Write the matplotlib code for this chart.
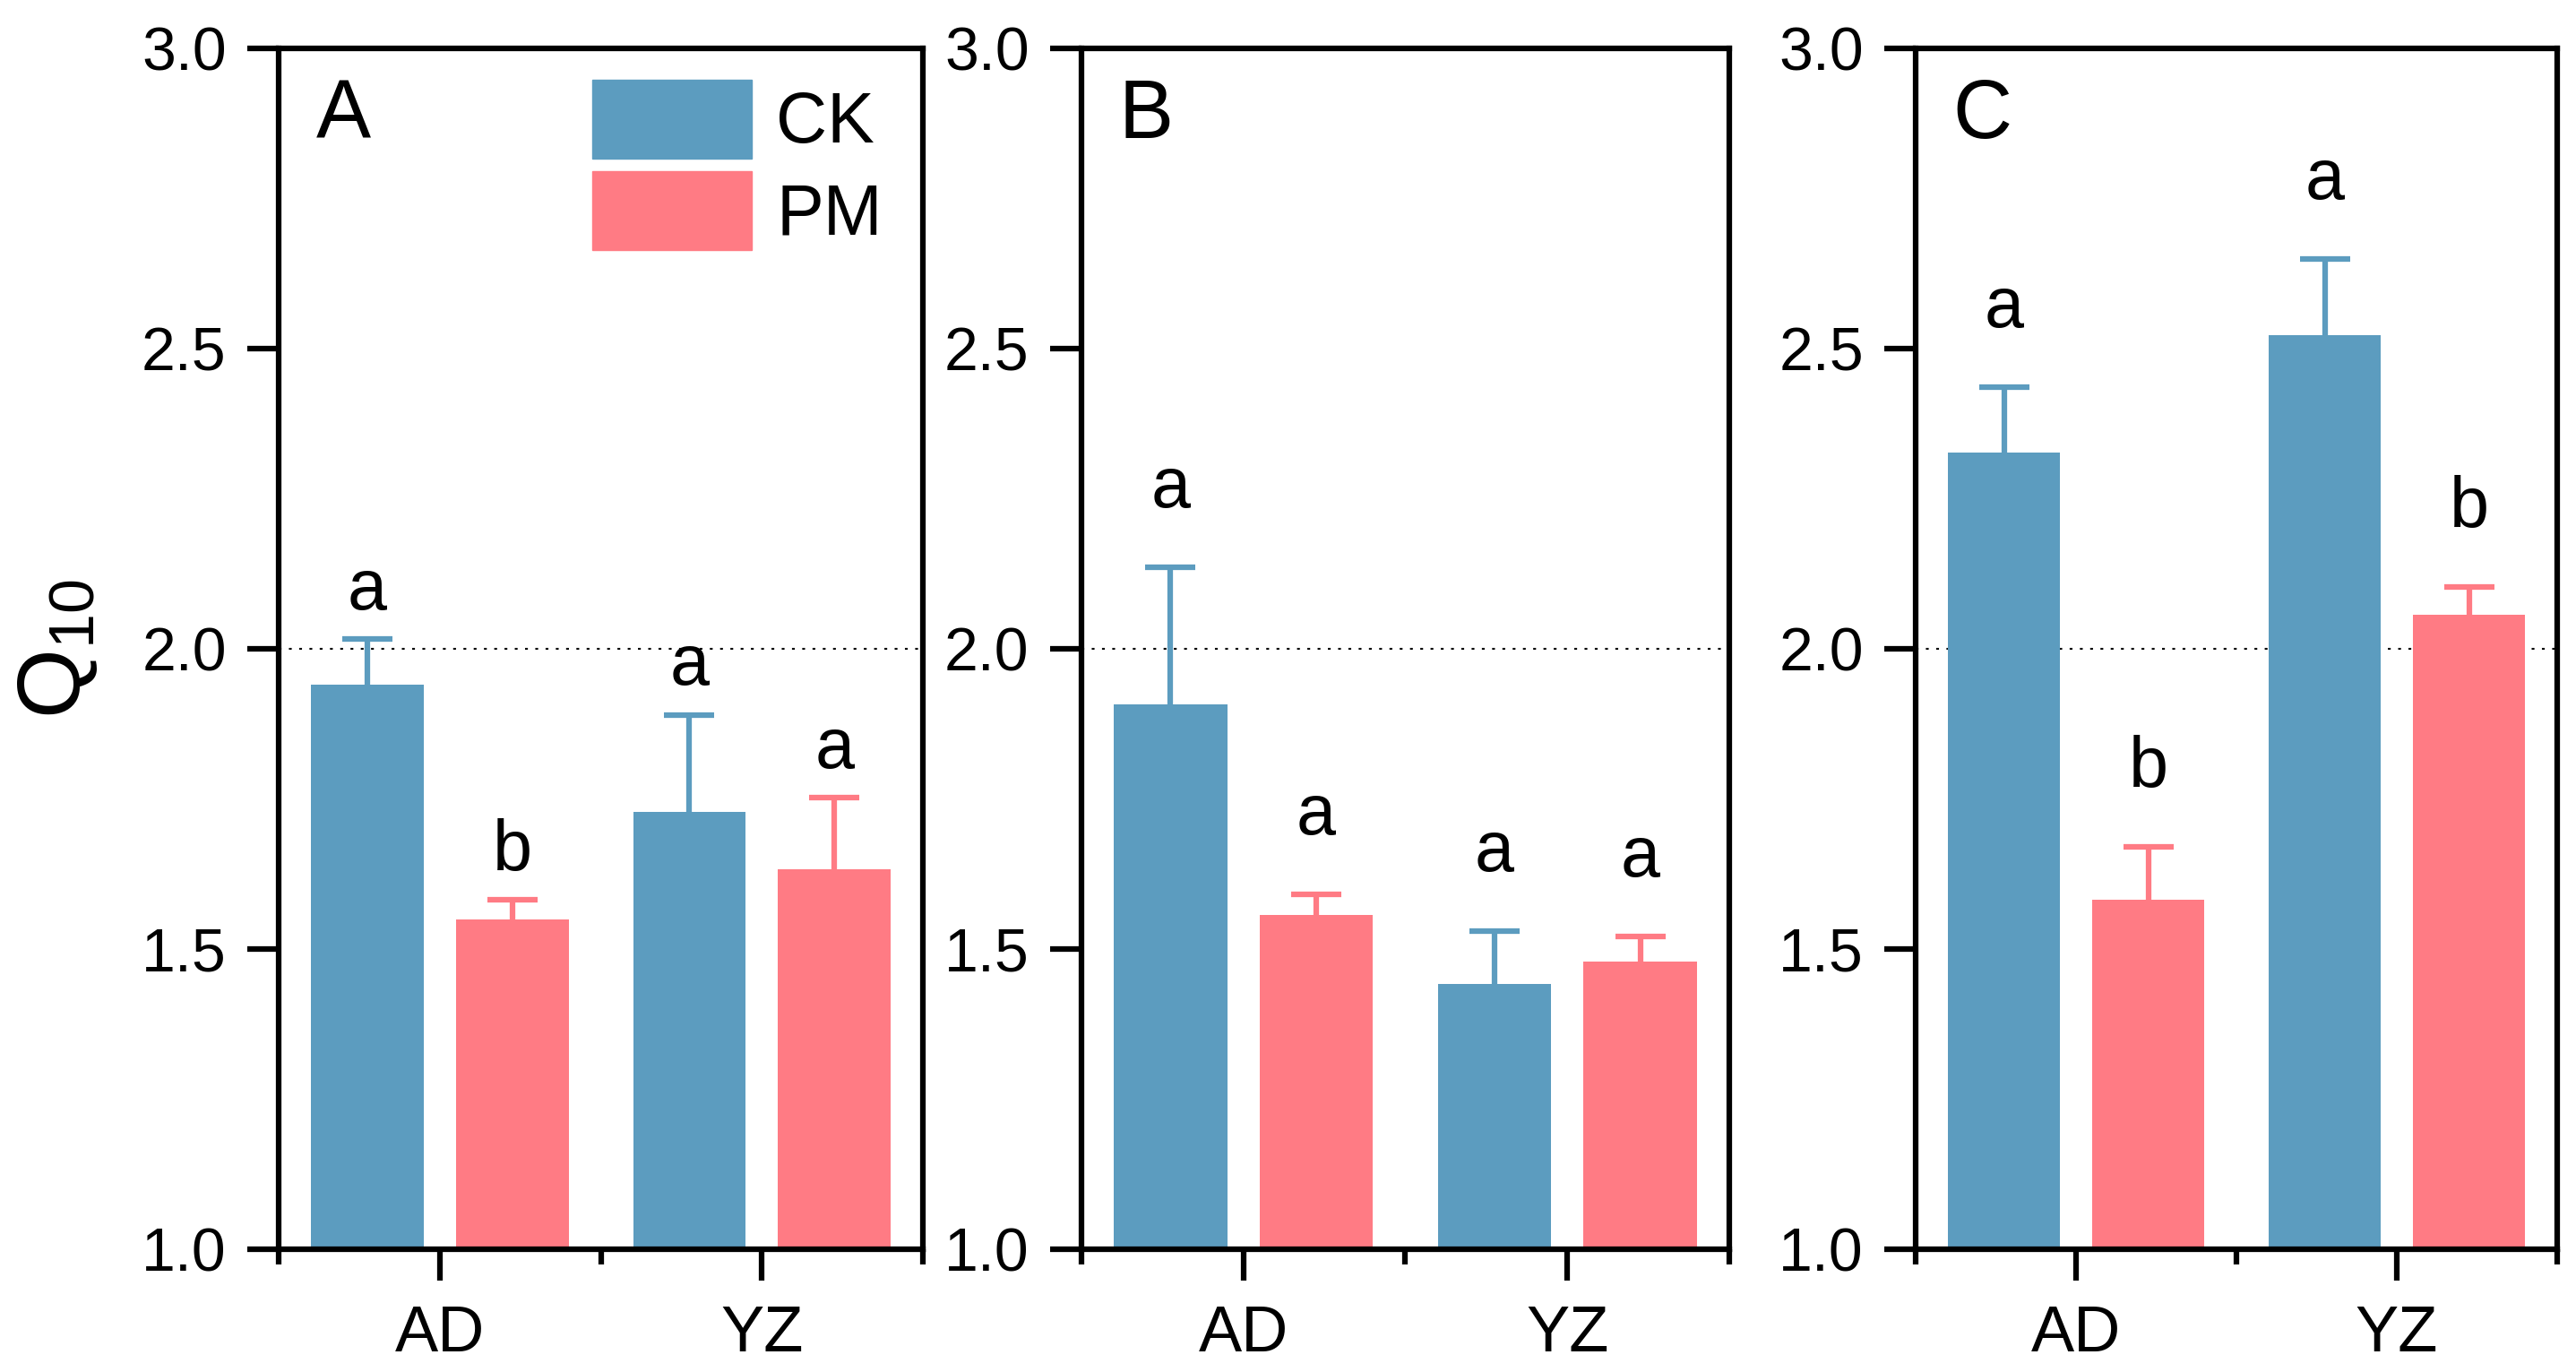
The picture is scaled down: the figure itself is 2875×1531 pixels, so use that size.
import numpy as np
import matplotlib
matplotlib.use("Agg")
import matplotlib.pyplot as plt
from matplotlib.patches import Patch

plt.rcParams["font.family"] = ["Liberation Sans", "DejaVu Sans"]
plt.rcParams["mathtext.default"] = "regular"

sites = ["AD", "YZ"]
treatments = ["CK", "PM"]
panels = ["A", "B", "C"]
# mean Q10 per panel: [AD, YZ] for each treatment
ck_mean = [[1.940, 1.728], [1.907, 1.442], [2.327, 2.522]]
pm_mean = [[1.549, 1.633], [1.556, 1.479], [1.582, 2.057]]
ck_err = [[0.076, 0.162], [0.229, 0.088], [0.109, 0.127]]
pm_err = [[0.033, 0.119], [0.035, 0.042], [0.088, 0.046]]
ck_sig = [["a", "a"], ["a", "a"], ["a", "a"]]
pm_sig = [["b", "a"], ["a", "a"], ["b", "b"]]

CK_COL = "#5C9CBF"
PM_COL = "#FF7B84"
W = 0.35
OFF = 0.225
letter_gap = [0.05, 0.10, 0.10]

fig = plt.figure(figsize=(28.75, 15.31), dpi=100)
lefts = [0.1082, 0.4198, 0.7437]
widths = [0.2501, 0.2515, 0.2490]
x = np.arange(1, len(sites) + 1)

for i, p in enumerate(panels):
    ax = fig.add_axes([lefts[i], 0.0895, widths[i], 0.8753])
    for vals, errs, sig, col, dx in [(ck_mean[i], ck_err[i], ck_sig[i], CK_COL, -OFF),
                                     (pm_mean[i], pm_err[i], pm_sig[i], PM_COL, OFF)]:
        ax.bar(x + dx, vals, W, bottom=0, color=col, zorder=2)
        eb = ax.errorbar(x + dx, vals, yerr=[np.zeros(len(vals)), errs], fmt="none",
                         ecolor=col, elinewidth=4.5, capsize=20, capthick=4.5, zorder=1.5)
        eb[1][0].set_visible(False)  # no lower cap
        for xx, v, e, s in zip(x + dx, vals, errs, sig):
            ax.text(xx, v + e + letter_gap[i], s, ha="center", va="baseline",
                    fontsize=57)
    ax.axhline(2.0, color="black", lw=1.5, ls=(0, (1.5, 4)), zorder=1)
    ax.set_ylim(1.0, 3.0)
    ax.set_xlim(0.5, 2.5)
    ax.set_yticks([1.0, 1.5, 2.0, 2.5, 3.0])
    ax.set_yticklabels(["1.0", "1.5", "2.0", "2.5", "3.0"])
    ax.set_xticks(x)
    ax.set_xticklabels(sites)
    ax.set_xticks([0.5, 1.5, 2.5], minor=True)
    ax.tick_params(axis="y", direction="out", length=25, width=4.5, labelsize=49, pad=17)
    ax.tick_params(axis="x", which="major", direction="out", length=25, width=4.5,
                   labelsize=52, pad=20)
    ax.tick_params(axis="x", which="minor", direction="out", length=12, width=4.5)
    for sp in ax.spines.values():
        sp.set_linewidth(4.5)
    ax.text(0.058, 0.975, p, transform=ax.transAxes, ha="left", va="top", fontsize=66)
    if i == 0:
        ax.set_ylabel("Q$_{10}$", fontsize=72, labelpad=34)
        handles = [Patch(color=CK_COL), Patch(color=PM_COL)]
        ax.legend(handles, treatments, loc="upper left", bbox_to_anchor=(0.487, 0.974),
                  frameon=False, fontsize=57, handlelength=2.24, handleheight=1.34,
                  labelspacing=0.17, handletextpad=0.35, borderpad=0, borderaxespad=0)

fig.savefig("out.png", dpi=100)
